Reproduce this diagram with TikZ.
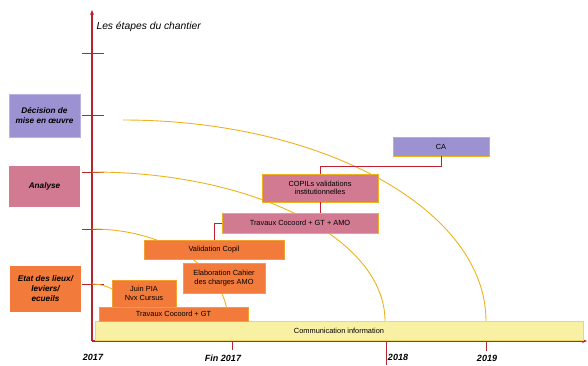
\documentclass[tikz,border=0pt]{standalone}
\usepackage{fontspec}
\setmainfont{Liberation Sans}
\usepackage{xcolor}
\usepackage{tikz}
\usetikzlibrary{arrows.meta,positioning,calc}

\definecolor{axisred}{HTML}{B3262E}
\definecolor{linkred}{HTML}{C21F30}
\definecolor{curvegold}{HTML}{EEB21E}
\definecolor{lavender}{HTML}{9C92D2}
\definecolor{rosebox}{HTML}{D27A92}
\definecolor{orangebox}{HTML}{F27A3A}
\definecolor{orangeedge}{HTML}{F2A02E}
\definecolor{combar}{HTML}{F8F0A2}
\definecolor{comedge}{HTML}{EFD86A}

\begin{document}
\begin{tikzpicture}[
  x=1pt, y=-1pt,
  box/.style={draw, line width=0.8pt, inner sep=1pt, align=center, font=\fontsize{7.4}{8.6}\selectfont},
  stage/.style={inner sep=1pt, align=center, font=\fontsize{8.2}{10}\selectfont\bfseries\itshape},
  year/.style={font=\fontsize{9}{10}\selectfont\bfseries\itshape},
  axis/.style={axisred, line width=1.1pt},
  tick/.style={axisred, line width=1pt},
  link/.style={linkred, line width=1pt},
  curve/.style={curvegold, line width=0.9pt}
]
\useasboundingbox (0,0) rectangle (588,365);

% axes
\coordinate (origin) at (92,341);
\draw[axis, -{Stealth[length=5pt,width=4pt]}] (origin) -- (92,10);
\draw[axis, -{Stealth[length=5pt,width=4pt]}] (origin) -- (587,341);
\node [anchor=west, font=\fontsize{10.3}{12}\selectfont\itshape] (title) at (93,27) {Les étapes du chantier};

% graduations
\draw[tick] (82,53) -- (104,53);
\draw[tick] (82,115) -- (104,115);
\draw[tick] (82,172) -- (104,172);
\draw[tick] (82,229) -- (104,229);
\draw[tick] (82,284) -- (104,284);
\draw[tick] (232,341) -- (232,350);
\draw[tick] (386,341) -- (386,365);
\draw[tick] (486,341) -- (486,351);

\node [year] (y2017) at (93,357) {2017};
\node [year] (fin2017) at (223,358) {Fin 2017};
\node [year] (y2018) at (398,357) {2018};
\node [year] (y2019) at (487,358) {2019};

% courbes
\coordinate (c1) at (123,120);
\coordinate (c2) at (92,172);
\coordinate (c3) at (92,229);
\coordinate (c4) at (92,284);
\draw[curve] (c1) arc[start angle=-90, end angle=0, x radius=363, y radius=201];
\draw[curve] (c2) arc[start angle=-90, end angle=0, x radius=293, y radius=149];
\draw[curve] (c3) arc[start angle=-90, end angle=0, x radius=136, y radius=92];
\draw[curve] (c4) arc[start angle=-90, end angle=0, x radius=40, y radius=37];

% etapes
\node [stage, fill=lavender, draw=lavender!70!white, minimum width=71pt, minimum height=43pt] (decision) at (44.5,115.5) {Décision de\\mise en œuvre};
\node [stage, fill=rosebox, minimum width=71pt, minimum height=41pt] (analyse) at (44.5,186.5) {Analyse};
\node [stage, fill=orangebox, minimum width=71pt, minimum height=46pt] (etat) at (45.5,289) {Etat des lieux/\\leviers/\\ecueils};

% taches
\node [box, fill=combar, draw=comedge, minimum width=488pt, minimum height=19pt] (comm) at (339,330.5) {Communication information};
\node [box, fill=orangebox, draw=orangeedge, minimum width=149pt, minimum height=14pt] (travgt) at (173.5,314) {Travaux Cocoord + GT};
\node [box, fill=orangebox, draw=orangeedge, minimum width=64pt, minimum height=27pt] (pia) at (144,293.5) {Juin PIA\\Nvx Cursus};
\node [box, fill=orangebox, draw=orangeedge, minimum width=82pt, minimum height=30pt] (cahier) at (224,278) {Elaboration Cahier\\des charges AMO};
\node [box, fill=orangebox, draw=orangeedge, minimum width=140pt, minimum height=19pt] (copil) at (214,249.5) {Validation Copil};
\node [box, fill=rosebox, draw=curvegold, minimum width=156pt, minimum height=20pt] (travamo) at (300,223) {Travaux Cocoord + GT + AMO};
\node [box, fill=rosebox, draw=curvegold, minimum width=116pt, minimum height=28pt] (copils) at (320,188) {COPILs validations\\institutionnelles};
\node [box, fill=lavender, draw=curvegold, minimum width=96pt, minimum height=19pt] (ca) at (441,146.5) {CA};

% liens
\draw[link] (ca.south) -- ++(0,10) -| (copils.north);
\draw[link] (copils.south) -- (travamo.north -| copils.south);
\draw[link] (travamo.west) -| (copil.north);
\end{tikzpicture}
\end{document}
